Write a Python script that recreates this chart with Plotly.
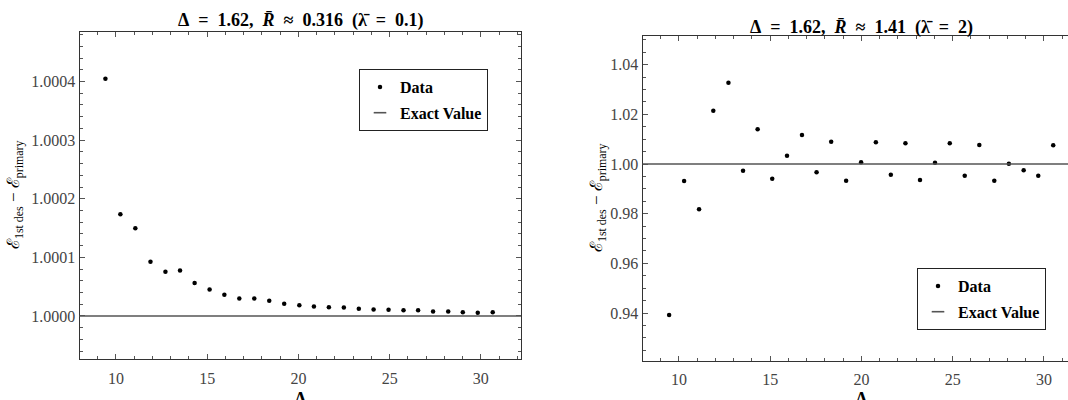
import plotly.graph_objects as go

# ---------------- data ----------------
lam_left = [9.42, 10.24, 11.06, 11.89, 12.71, 13.51, 14.31, 15.13, 15.94, 16.76,
            17.58, 18.40, 19.22, 20.05, 20.85, 21.67, 22.49, 23.31, 24.12, 24.94,
            25.76, 26.56, 27.38, 28.21, 29.01, 29.83, 30.65]
ratio_left = [1.0004046, 1.0001737, 1.0001498, 1.0000923, 1.0000753, 1.0000776,
              1.0000560, 1.0000452, 1.0000360, 1.0000299, 1.0000299, 1.0000258,
              1.0000206, 1.0000184, 1.0000162, 1.0000150, 1.0000145, 1.0000121,
              1.0000111, 1.0000104, 1.0000099, 1.0000099, 1.0000077, 1.0000077,
              1.0000065, 1.0000053, 1.0000065]

lam_right = [9.46, 10.28, 11.10, 11.88, 12.71, 13.51, 14.31, 15.11, 15.92, 16.74,
             17.54, 18.34, 19.16, 19.98, 20.79, 21.61, 22.41, 23.21, 24.03, 24.84,
             25.66, 26.46, 27.28, 28.08, 28.89, 29.69, 30.51]
ratio_right = [0.9392, 0.99315, 0.98176, 1.02147, 1.03274, 0.9973, 1.01397, 0.99408,
               1.00334, 1.01168, 0.99666, 1.00898, 0.99327, 1.00068, 1.00874, 0.99569,
               1.00834, 0.99356, 1.00052, 1.00834, 0.99529, 1.00765, 0.99327, 1.00012,
               0.99746, 0.99529, 1.00753]

exact_value = 1.0

SP = "\u2002"  # en space, mimics TeX relation spacing
title_left = (f"<b>Δ{SP}={SP}1.62,{SP}<i>R\u0304</i>{SP}≈{SP}0.316{SP}"
              f"(λ\u0304{SP}={SP}0.1)</b>")
title_right = (f"<b>Δ{SP}={SP}1.62,{SP}<i>R\u0304</i>{SP}≈{SP}1.41{SP}"
               f"(λ\u0304{SP}={SP}2)</b>")
y_label = "ℰ<sub>1st des</sub> − ℰ<sub>primary</sub>"
x_label = "<b>Λ</b>"

# ---------------- styling ----------------
W, H = 1068, 400
SERIF = "Liberation Serif"
FRAME = "#333333"
TICKC = "#555555"
LINEC = "#555555"


def px_x(p):
    return p / W


def px_y(p):
    return 1 - p / H


fig = go.Figure()

# data traces
fig.add_trace(go.Scatter(x=lam_left, y=ratio_left, mode="markers", name="<b>Data</b>",
                         marker=dict(color="black", size=4.5), xaxis="x", yaxis="y",
                         legend="legend", legendgroup="d1"))
fig.add_trace(go.Scatter(x=[None], y=[None], mode="markers", name="<b>Exact Value</b>",
                         marker=dict(symbol="line-ew-open", size=9, color=LINEC,
                                     line=dict(color=LINEC, width=1.6)),
                         xaxis="x", yaxis="y", legend="legend", legendgroup="e1"))

fig.add_trace(go.Scatter(x=lam_right, y=ratio_right, mode="markers", name="<b>Data</b>",
                         marker=dict(color="black", size=4.5), xaxis="x2", yaxis="y2",
                         legend="legend2", legendgroup="d2"))
fig.add_trace(go.Scatter(x=[None], y=[None], mode="markers", name="<b>Exact Value</b>",
                         marker=dict(symbol="line-ew-open", size=9, color=LINEC,
                                     line=dict(color=LINEC, width=1.6)),
                         xaxis="x2", yaxis="y2", legend="legend2", legendgroup="e2"))

# exact value lines across each plot
fig.add_shape(type="line", xref="x domain", yref="y", x0=0, x1=1,
              y0=exact_value, y1=exact_value, line=dict(color=LINEC, width=1.6))
fig.add_shape(type="line", xref="x2 domain", yref="y2", x0=0, x1=1,
              y0=exact_value, y1=exact_value, line=dict(color=LINEC, width=1.6))

axis_common = dict(showgrid=False, zeroline=False, showline=True, linecolor=FRAME,
                   linewidth=1.2, ticks="inside", ticklen=5, tickwidth=1,
                   tickcolor=TICKC, tickfont=dict(family=SERIF, size=16, color="#444444"))

legend_common = dict(xanchor="right", yanchor="top",
                     bgcolor="white", bordercolor="#222222", borderwidth=1,
                     font=dict(family=SERIF, size=16, color="black"),
                     itemwidth=30, tracegroupgap=2, traceorder="grouped")

fig.update_layout(
    width=W, height=H, autosize=False,
    margin=dict(l=0, r=0, t=0, b=0),
    paper_bgcolor="white", plot_bgcolor="white",
    font=dict(family=SERIF),
    xaxis=dict(**axis_common, domain=[px_x(79.5), px_x(521)], range=[8, 32.2],
               dtick=5, tick0=0, mirror="allticks", ticklabelstandoff=4,
               minor=dict(ticks="inside", dtick=1, ticklen=3, tickcolor=TICKC),
               anchor="y"),
    yaxis=dict(**axis_common, domain=[px_y(359.3), px_y(32.3)],
               range=[0.999926, 1.000484], dtick=0.0001, tick0=1, tickformat=".4f",
               mirror="allticks",
               minor=dict(ticks="inside", dtick=0.00002, ticklen=3, tickcolor=TICKC),
               anchor="x"),
    xaxis2=dict(**axis_common, domain=[px_x(642.5), 1.0], range=[8, 31.32],
                dtick=5, tick0=0, mirror="allticks", ticklabelstandoff=4,
                minor=dict(ticks="inside", dtick=1, ticklen=3, tickcolor=TICKC),
                anchor="y2"),
    yaxis2=dict(**axis_common, domain=[px_y(361), px_y(36)],
                range=[0.92067, 1.05156], dtick=0.02, tick0=1, tickformat=".2f",
                mirror=False,
                minor=dict(ticks="inside", dtick=0.005, ticklen=3, tickcolor=TICKC),
                anchor="x2"),
    legend=dict(x=px_x(488), y=px_y(69), **legend_common),
    legend2=dict(x=px_x(1046), y=px_y(268), **legend_common),
    showlegend=True,
)

ann_font = dict(family=SERIF, size=18, color="black")
annotations = [
    dict(text=title_left, x=px_x(301), y=px_y(21), xanchor="center", yanchor="middle"),
    dict(text=title_right, x=px_x(861), y=px_y(27), xanchor="center", yanchor="middle"),
    dict(text=y_label, x=px_x(15), y=px_y(195), xanchor="center", yanchor="middle",
         textangle=-90, font=dict(family=SERIF, size=17, color="black")),
    dict(text=y_label, x=px_x(598), y=px_y(198), xanchor="center", yanchor="middle",
         textangle=-90, font=dict(family=SERIF, size=17, color="black")),
    dict(text=x_label, x=px_x(300), y=px_y(387), xanchor="center", yanchor="top"),
    dict(text=x_label, x=px_x(861), y=px_y(387), xanchor="center", yanchor="top"),
]
for a in annotations:
    a.update(xref="paper", yref="paper", showarrow=False)
    a.setdefault("font", ann_font)
fig.update_layout(annotations=annotations)

fig.write_html("out.html", config={"displayModeBar": False},
               post_script="document.body.style.margin='0';document.body.style.padding='0';")
